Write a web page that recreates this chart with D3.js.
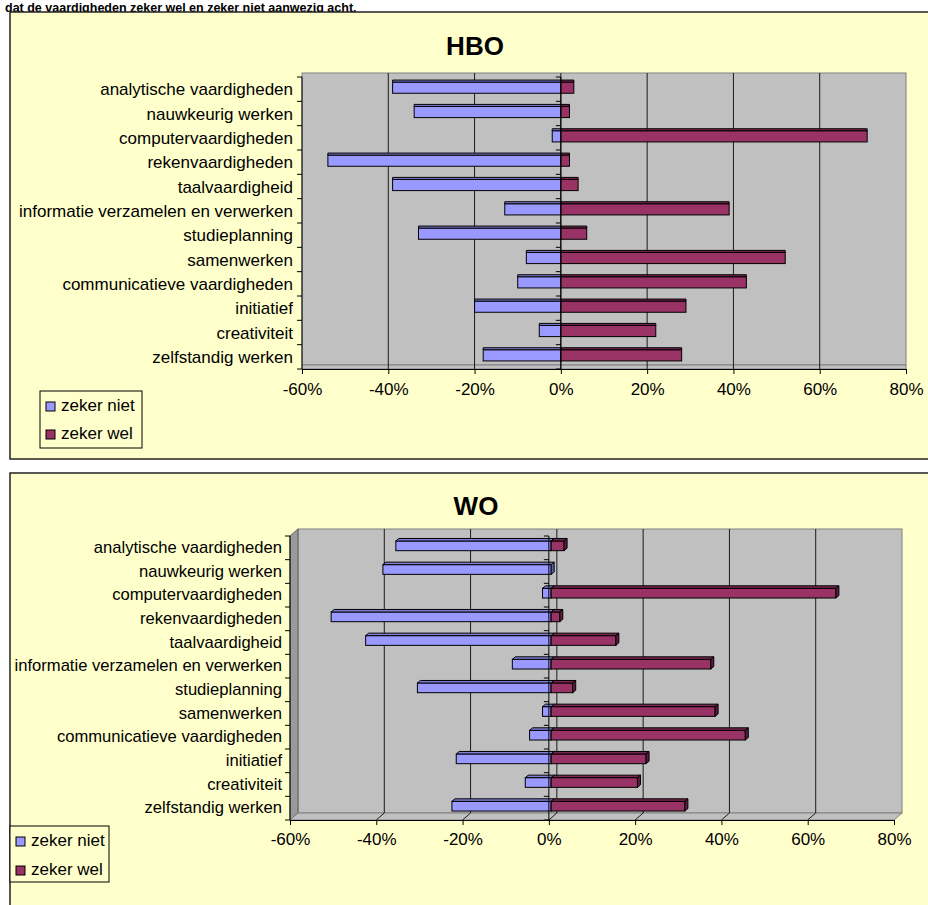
<!DOCTYPE html>
<html>
<head>
<meta charset="utf-8">
<script src="https://cdn.jsdelivr.net/npm/d3@7"></script>
<style>
  html, body { margin: 0; padding: 0; background: #ffffff; }
  svg { display: block; }
  text { font-family: "Liberation Sans", Arial, sans-serif; fill: #000; }
</style>
</head>
<body>
<svg id="chart" width="928" height="905"></svg>
<script>
// Vaardigheden (top to bottom)
const categories = [
  "analytische vaardigheden",
  "nauwkeurig werken",
  "computervaardigheden",
  "rekenvaardigheden",
  "taalvaardigheid",
  "informatie verzamelen en verwerken",
  "studieplanning",
  "samenwerken",
  "communicatieve vaardigheden",
  "initiatief",
  "creativiteit",
  "zelfstandig werken"
];

// Percentages per series
const hboZekerNiet = [-39, -34, -2, -54, -39, -13, -33, -8, -10, -20, -5, -18];
const hboZekerWel  = [3, 2, 71, 2, 4, 39, 6, 52, 43, 29, 22, 28];
const woZekerNiet  = [-36, -39, -2, -51, -43, -9, -31, -2, -5, -22, -6, -23];
const woZekerWel   = [3, 0, 66, 2, 15, 37, 5, 38, 45, 22, 20, 31];

const seriesNames = ["zeker niet", "zeker wel"];
const axisTicks = [-60, -40, -20, 0, 20, 40, 60, 80];

const colors = {
  niet: { front: "#9999FF", top: "#7F7FD6", side: "#5F5FB0" },
  wel:  { front: "#993366", top: "#7A2650", side: "#5C1C3C" }
};

const svg = d3.select("#chart");

// Heading line of the surrounding document
svg.append("text")
  .attr("x", 5).attr("y", 11.5)
  .style("font-size", "12.5px").style("font-weight", "bold")
  .text("dat de vaardigheden zeker wel en zeker niet aanwezig acht.");

function drawPanel(cfg) {
  const g = svg.append("g");

  // Panel background
  g.append("rect")
    .attr("x", cfg.box.x).attr("y", cfg.box.y)
    .attr("width", cfg.box.w).attr("height", cfg.box.h)
    .attr("fill", "#FFFFCC").attr("stroke", "#222").attr("stroke-width", 1.5);

  g.append("text")
    .attr("x", cfg.titleX).attr("y", cfg.titleY)
    .attr("text-anchor", "middle")
    .style("font-size", "26px").style("font-weight", "bold")
    .text(cfg.title);

  const x = d3.scaleLinear().domain([-60, 80]).range([cfg.x0, cfg.x1]);
  const y = d3.scaleBand().domain(categories).range([cfg.y0, cfg.y1]).paddingInner(0).paddingOuter(0);
  const dx = cfg.depth.dx, dy = cfg.depth.dy;

  // Back wall
  g.append("rect")
    .attr("x", cfg.x0 + dx).attr("y", cfg.y0 + dy)
    .attr("width", cfg.x1 - cfg.x0).attr("height", cfg.y1 - cfg.y0)
    .attr("fill", "#C0C0C0").attr("stroke", "#808080").attr("stroke-width", 1);

  // Side wall
  if (dx > 0) {
    g.append("polygon")
      .attr("points", [[cfg.x0, cfg.y0], [cfg.x0 + dx, cfg.y0 + dy], [cfg.x0 + dx, cfg.y1 + dy], [cfg.x0, cfg.y1]].join(" "))
      .attr("fill", "#9A9A9A").attr("stroke", "#606060").attr("stroke-width", 1);
  }

  // Floor
  g.append("polygon")
    .attr("points", [[cfg.x0, cfg.y1], [cfg.x0 + dx, cfg.y1 + dy], [cfg.x1 + dx, cfg.y1 + dy], [cfg.x1, cfg.y1]].join(" "))
    .attr("fill", "#C0C0C0").attr("stroke", "#808080").attr("stroke-width", 1);

  // Gridlines on the wall and floor
  const inner = axisTicks.filter(t => t > -60 && t < 80);
  g.selectAll(".grid").data(inner).join("line")
    .attr("x1", d => x(d) + dx).attr("x2", d => x(d) + dx)
    .attr("y1", cfg.y0 + dy).attr("y2", cfg.y1 + dy)
    .attr("stroke", "#1a1a1a").attr("stroke-width", 1);
  g.selectAll(".gridfloor").data(inner).join("line")
    .attr("x1", d => x(d) + dx).attr("x2", d => x(d))
    .attr("y1", cfg.y1 + dy).attr("y2", cfg.y1)
    .attr("stroke", "#1a1a1a").attr("stroke-width", 1);

  // 3D bars
  const bh = y.bandwidth() * cfg.barRatio;
  const bo = cfg.barOffset, bd = cfg.barDepth;
  function bar(v, c) {
    if (v === 0) return;
    const cat = categories[c.i];
    const xa = x(Math.min(0, v)) + bo.dx;
    const xb = x(Math.max(0, v)) + bo.dx;
    const yt = y(cat) + (y.bandwidth() - bh) / 2 + bo.dy;
    const yb = yt + bh;
    const col = c.col;
    g.append("rect")
      .attr("x", xa).attr("y", yt).attr("width", xb - xa).attr("height", bh)
      .attr("fill", col.front).attr("stroke", "#000").attr("stroke-width", 1);
    g.append("polygon")
      .attr("points", [[xa, yt], [xa + bd.dx, yt + bd.dy], [xb + bd.dx, yt + bd.dy], [xb, yt]].join(" "))
      .attr("fill", col.top).attr("stroke", "#000").attr("stroke-width", 1);
    if (bd.dx > 0) {
      g.append("polygon")
        .attr("points", [[xb, yt], [xb + bd.dx, yt + bd.dy], [xb + bd.dx, yb + bd.dy], [xb, yb]].join(" "))
        .attr("fill", col.side).attr("stroke", "#000").attr("stroke-width", 1);
    }
  }
  categories.forEach((cat, i) => {
    bar(cfg.niet[i], { i, col: colors.niet });
    bar(cfg.wel[i], { i, col: colors.wel });
  });

  // Category axis on the left edge (ticks only, labels placed low)
  const tickYs = d3.range(categories.length + 1).map(k => cfg.y0 + k * y.step());
  g.append("line")
    .attr("x1", cfg.x0).attr("x2", cfg.x0).attr("y1", cfg.y0).attr("y2", cfg.y1)
    .attr("stroke", "#000").attr("stroke-width", 1);
  g.selectAll(".ltick").data(tickYs).join("line")
    .attr("x1", cfg.x0 - 5).attr("x2", cfg.x0).attr("y1", d => d).attr("y2", d => d)
    .attr("stroke", "#000").attr("stroke-width", 1);

  // Category axis crossing at 0
  g.append("line")
    .attr("x1", x(0)).attr("x2", x(0)).attr("y1", cfg.y0).attr("y2", cfg.y1)
    .attr("stroke", "#000").attr("stroke-width", 1);
  g.selectAll(".ztick").data(tickYs).join("line")
    .attr("x1", x(0) - 5).attr("x2", x(0)).attr("y1", d => d).attr("y2", d => d)
    .attr("stroke", "#000").attr("stroke-width", 1);

  g.selectAll(".clabel").data(categories).join("text")
    .attr("x", cfg.labelX)
    .attr("y", d => y(d) + y.bandwidth() / 2 + cfg.labelDy)
    .attr("text-anchor", "end")
    .style("font-size", cfg.labelSize)
    .text(d => d);

  // Value axis along the front of the floor
  const xAxis = d3.axisBottom(x).tickValues(axisTicks).tickSize(5).tickFormat(d => d + "%");
  const ax = g.append("g").attr("transform", `translate(0,${cfg.y1})`).call(xAxis);
  ax.select(".domain").attr("stroke", "#000");
  ax.selectAll(".tick line").attr("stroke", "#000");
  ax.selectAll(".tick text")
    .attr("y", cfg.tickLabelDy).attr("dy", 0)
    .style("font-size", "17px")
    .style("font-family", '"Liberation Sans", Arial, sans-serif')
    .attr("fill", "#000");

  // Legend
  const L = cfg.legend;
  const lg = g.append("g");
  lg.append("rect")
    .attr("x", L.x).attr("y", L.y).attr("width", L.w).attr("height", L.h)
    .attr("fill", "#FFFFCC").attr("stroke", "#000").attr("stroke-width", 1);
  const legendCols = [colors.niet.front, colors.wel.front];
  seriesNames.forEach((name, k) => {
    const cy = L.y + L.firstRow + k * L.rowStep;
    lg.append("rect")
      .attr("x", L.x + 6).attr("y", cy - 9).attr("width", 9).attr("height", 9)
      .attr("fill", legendCols[k]).attr("stroke", "#000").attr("stroke-width", 1);
    lg.append("text")
      .attr("x", L.x + 21).attr("y", cy)
      .style("font-size", "17px")
      .text(name);
  });
}

drawPanel({
  title: "HBO", titleX: 475, titleY: 55,
  box: { x: 10, y: 12, w: 930, h: 447 },
  x0: 302, x1: 906, y0: 77, y1: 369,
  depth: { dx: 0, dy: -4 },
  barRatio: 0.46, barOffset: { dx: 0, dy: -1.5 }, barDepth: { dx: 0, dy: -2 },
  labelX: 293, labelDy: 6, labelSize: "17px", tickLabelDy: 26,
  niet: hboZekerNiet, wel: hboZekerWel,
  legend: { x: 40, y: 391, w: 102, h: 57, firstRow: 20, rowStep: 28 }
});

drawPanel({
  title: "WO", titleX: 476, titleY: 515,
  box: { x: 10, y: 473, w: 930, h: 450 },
  x0: 290, x1: 894, y0: 536, y1: 820,
  depth: { dx: 8, dy: -7 },
  barRatio: 0.41, barOffset: { dx: 2.3, dy: -2 }, barDepth: { dx: 3, dy: -2.5 },
  labelX: 282, labelDy: 5, labelSize: "16.6px", tickLabelDy: 25,
  niet: woZekerNiet, wel: woZekerWel,
  legend: { x: 10, y: 826, w: 99, h: 56, firstRow: 20, rowStep: 29 }
});
</script>
</body>
</html>
